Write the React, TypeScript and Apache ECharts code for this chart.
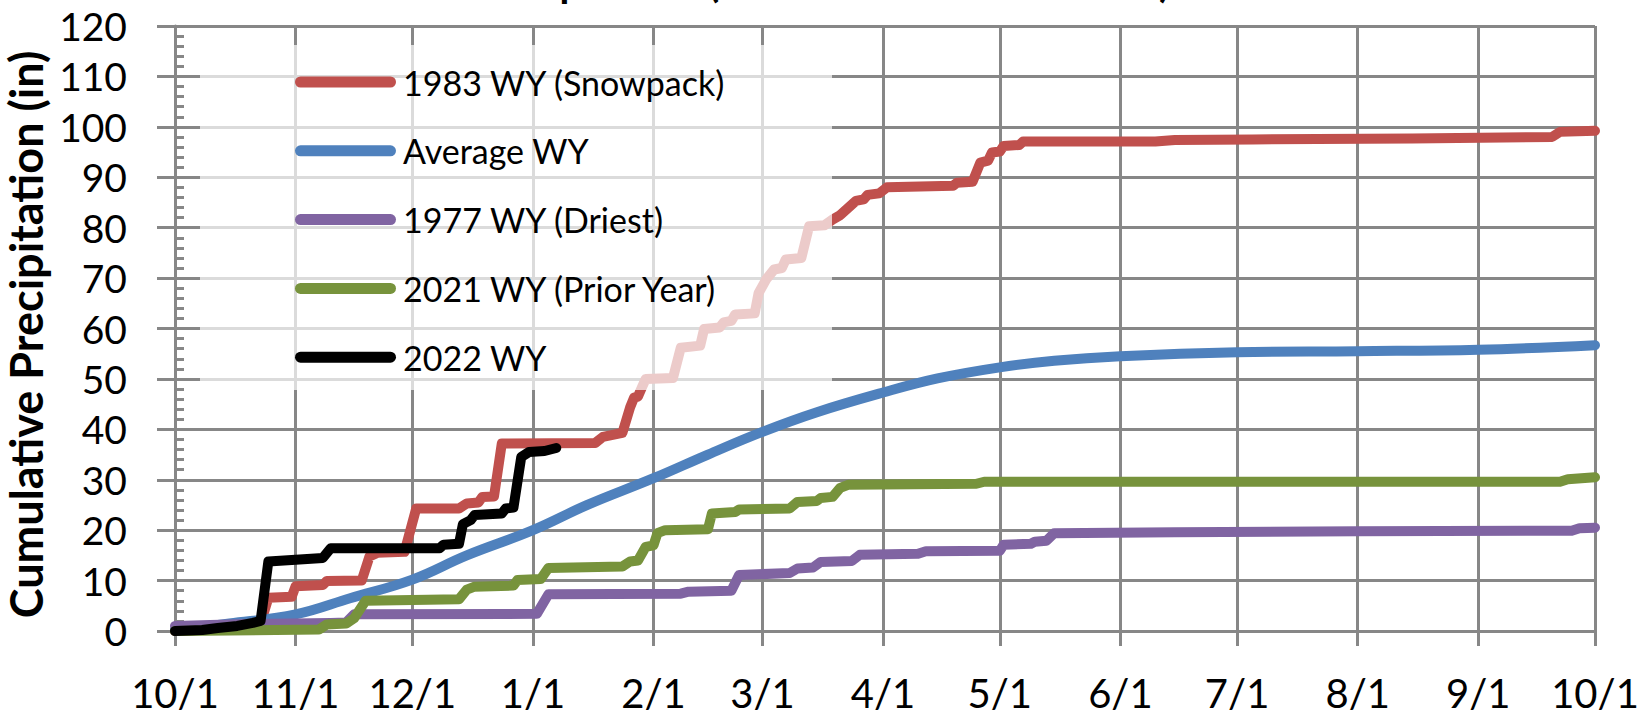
import React, { useEffect, useRef } from 'react';
import * as echarts from 'echarts';

// ---- categories: each day of the water year, 10/1 to the next 10/1 ----
const START = Date.UTC(2021, 9, 1);
const DAY_COUNT = 366;
const dayCategories: string[] = Array.from({ length: DAY_COUNT }, (_, i) =>
  new Date(START + i * 86400000).toISOString().slice(0, 10)
);

const titleText = 'Precipitation (Water Year 2022 to Date)';
const yAxisTitle = 'Cumulative Precipitation (in)';
const yTickValues = { min: 0, max: 120, step: 10 };

const seriesNames = ['1983 WY (Snowpack)', 'Average WY', '1977 WY (Driest)', '2021 WY (Prior Year)', '2022 WY'];
const seriesColors = ['#C0504D', '#4F81BD', '#8064A2', '#77933C', '#000000'];

// ---- values ([date, cumulative inches]) ----
const wy1983: [string, number][] = [
  ['2021-10-01', 0], ['2021-10-15', 0.5], ['2021-10-23', 1.5], ['2021-10-25', 6.6], ['2021-10-31', 6.8],
  ['2021-11-01', 8.9], ['2021-11-08', 9.1], ['2021-11-09', 9.9], ['2021-11-18', 10.0], ['2021-11-20', 14.8],
  ['2021-11-22', 15.5], ['2021-11-29', 15.7], ['2021-12-02', 24.3], ['2021-12-13', 24.3], ['2021-12-15', 25.3],
  ['2021-12-18', 25.5], ['2021-12-19', 26.6], ['2021-12-22', 26.7], ['2021-12-24', 37.2], ['2022-01-17', 37.3],
  ['2022-01-19', 38.5], ['2022-01-24', 39.3], ['2022-01-26', 44.4], ['2022-01-27', 46.3], ['2022-01-28', 46.5],
  ['2022-01-29', 48.3], ['2022-01-30', 50.0], ['2022-02-06', 50.2], ['2022-02-08', 56.2], ['2022-02-13', 56.6],
  ['2022-02-14', 59.9], ['2022-02-18', 60.2], ['2022-02-19', 61.2], ['2022-02-21', 61.5], ['2022-02-22', 62.8],
  ['2022-02-27', 63.0], ['2022-02-28', 67.0], ['2022-03-02', 69.8], ['2022-03-04', 71.7], ['2022-03-06', 72.0],
  ['2022-03-07', 73.7], ['2022-03-11', 74.0], ['2022-03-13', 80.3], ['2022-03-17', 80.5], ['2022-03-19', 81.6],
  ['2022-03-21', 82.5], ['2022-03-25', 85.3], ['2022-03-27', 85.6], ['2022-03-28', 86.5], ['2022-03-31', 86.8],
  ['2022-04-02', 88.0], ['2022-04-19', 88.3], ['2022-04-20', 88.9], ['2022-04-24', 89.1], ['2022-04-26', 92.9],
  ['2022-04-28', 93.3], ['2022-04-29', 94.9], ['2022-05-01', 95.1], ['2022-05-02', 96.2], ['2022-05-06', 96.4],
  ['2022-05-07', 97.1], ['2022-06-10', 97.1], ['2022-06-15', 97.4], ['2022-07-05', 97.5], ['2022-08-15', 97.7],
  ['2022-09-20', 98.0], ['2022-09-22', 99.0], ['2022-10-01', 99.2],
];

const wyAverage: [string, number][] = [
  ['2021-10-01', 0.3], ['2021-10-15', 1.5], ['2021-11-01', 3.3], ['2021-11-15', 6.5], ['2021-12-01', 10.2],
  ['2021-12-15', 15.0], ['2022-01-01', 20.0], ['2022-01-15', 25.0], ['2022-02-01', 30.3], ['2022-02-15', 35.0],
  ['2022-03-01', 39.5], ['2022-03-15', 43.4], ['2022-04-01', 47.3], ['2022-04-15', 50.1], ['2022-05-01', 52.3],
  ['2022-05-15', 53.6], ['2022-06-01', 54.5], ['2022-07-01', 55.3], ['2022-08-01', 55.5], ['2022-09-01', 55.8],
  ['2022-10-01', 56.7],
];

const wy1977: [string, number][] = [
  ['2021-10-01', 1.0], ['2021-10-10', 1.2], ['2021-10-20', 1.4], ['2021-11-10', 1.6], ['2021-11-14', 1.7],
  ['2021-11-16', 3.3], ['2022-01-02', 3.4], ['2022-01-05', 7.3], ['2022-02-08', 7.4], ['2022-02-10', 7.8],
  ['2022-02-21', 8.0], ['2022-02-23', 11.1], ['2022-03-08', 11.5], ['2022-03-10', 12.4], ['2022-03-14', 12.6],
  ['2022-03-16', 13.7], ['2022-03-24', 13.9], ['2022-03-26', 15.1], ['2022-04-10', 15.3], ['2022-04-12', 15.8],
  ['2022-05-01', 15.9], ['2022-05-02', 17.1], ['2022-05-09', 17.3], ['2022-05-10', 17.7], ['2022-05-13', 17.9],
  ['2022-05-15', 19.4], ['2022-06-15', 19.6], ['2022-08-01', 19.8], ['2022-09-25', 19.9], ['2022-09-27', 20.4],
  ['2022-10-01', 20.5],
];

const wy2021: [string, number][] = [
  ['2021-10-01', 0], ['2021-10-15', 0.1], ['2021-11-07', 0.3], ['2021-11-09', 1.3], ['2021-11-14', 1.5],
  ['2021-11-16', 2.5], ['2021-11-19', 6.0], ['2021-12-13', 6.3], ['2021-12-15', 8.2], ['2021-12-17', 8.8],
  ['2021-12-27', 9.0], ['2021-12-28', 10.1], ['2022-01-03', 10.3], ['2022-01-05', 12.5], ['2022-01-24', 12.8],
  ['2022-01-26', 13.8], ['2022-01-28', 14.0], ['2022-01-30', 16.7], ['2022-02-01', 17.0], ['2022-02-02', 19.4],
  ['2022-02-04', 20.0], ['2022-02-15', 20.2], ['2022-02-16', 23.3], ['2022-02-22', 23.6], ['2022-02-23', 24.1],
  ['2022-03-08', 24.3], ['2022-03-10', 25.6], ['2022-03-15', 25.8], ['2022-03-16', 26.4], ['2022-03-19', 26.6],
  ['2022-03-21', 28.4], ['2022-03-23', 29.0], ['2022-04-25', 29.2], ['2022-04-27', 29.6], ['2022-09-22', 29.6],
  ['2022-09-24', 30.1], ['2022-10-01', 30.5],
];

const wy2022: [string, number][] = [
  ['2021-10-01', 0], ['2021-10-08', 0.2], ['2021-10-12', 0.6], ['2021-10-17', 1.0], ['2021-10-21', 1.6],
  ['2021-10-23', 2.0], ['2021-10-25', 13.8], ['2021-11-02', 14.2], ['2021-11-08', 14.5], ['2021-11-10', 16.4],
  ['2021-12-08', 16.4], ['2021-12-09', 17.1], ['2021-12-13', 17.3], ['2021-12-14', 21.2], ['2021-12-16', 22.0],
  ['2021-12-17', 23.0], ['2021-12-24', 23.3], ['2021-12-25', 24.3], ['2021-12-27', 24.5], ['2021-12-29', 34.5],
  ['2021-12-31', 35.5], ['2022-01-04', 35.7], ['2022-01-07', 36.3],
];

const seriesValues = [wy1983, wyAverage, wy1977, wy2021, wy2022];

const GRID = '#878787';
const FONT = 'Lato';

const isMonthStart = (_i: number, value: string) => value.endsWith('-01');

export default function App() {
  const ref = useRef<HTMLDivElement>(null);

  useEffect(() => {
    if (!ref.current) return;
    const chart = echarts.init(ref.current, undefined, { renderer: 'svg' });
    const idx = new Map(dayCategories.map((d, i) => [d, i]));

    const series = seriesValues.map((vals, k) => ({
      name: seriesNames[k],
      type: 'line',
      z: 2,
      data: vals.map(([d, v]) => [idx.get(d), v]),
      showSymbol: false,
      symbol: 'none',
      smooth: k === 1 ? 0.4 : false,
      color: seriesColors[k],
      lineStyle: { width: 10, color: seriesColors[k], cap: 'round', join: 'round' },
      emphasis: { disabled: true },
    }));

    chart.setOption({
      animation: false,
      backgroundColor: '#ffffff',
      textStyle: { fontFamily: FONT },
      title: {
        text: titleText,
        left: 'center',
        top: -43,
        textStyle: { fontFamily: FONT, fontSize: 40, fontWeight: 'bold', color: '#000' },
      },
      grid: {
        left: 175,
        right: 45,
        top: 26,
        bottom: 86,
        containLabel: false,
        outerBoundsMode: 'none',
      },
      legend: {
        orient: 'vertical',
        left: 295,
        top: 62,
        padding: 0,
        itemGap: 28.8,
        itemWidth: 101,
        itemHeight: 11,
        selectedMode: false,
        icon: 'path://M5.5,0H95.5A5.5,5.5,0,0,1,95.5,11H5.5A5.5,5.5,0,0,1,5.5,0Z',
        textStyle: { fontFamily: FONT, fontSize: 34, lineHeight: 40, color: '#000', padding: [0, 0, 0, 2] },
        data: seriesNames,
        z: 4,
      },
      graphic: [
        {
          z: 3,
          elements: [
            {
              type: 'rect',
              z: 3,
              silent: true,
              shape: { x: 200, y: 45, width: 632, height: 345 },
              style: { fill: 'rgba(255,255,255,0.7)' },
            },
          ],
        },
      ],
      xAxis: {
        type: 'category',
        data: dayCategories,
        boundaryGap: false,
        axisLine: { lineStyle: { color: GRID, width: 3 } },
        axisTick: { show: true, interval: isMonthStart, length: 15, lineStyle: { color: GRID, width: 3 } },
        splitLine: { show: true, interval: isMonthStart, lineStyle: { color: GRID, width: 3 } },
        axisLabel: {
          interval: isMonthStart,
          margin: 42,
          fontFamily: FONT,
          fontSize: 40,
          color: '#000',
          formatter: (value: string) => {
            const [, m, d] = value.split('-');
            return `${+m}/${+d}`;
          },
        },
      },
      yAxis: [
        {
          type: 'value',
          min: yTickValues.min,
          max: yTickValues.max,
          interval: yTickValues.step,
          name: yAxisTitle,
          nameLocation: 'middle',
          nameGap: 110,
          nameTextStyle: {
            fontFamily: FONT,
            fontSize: 45,
            fontWeight: 'bold',
            color: '#000',
            padding: [0, 12, 0, 0],
          },
          axisLine: { show: true, lineStyle: { color: GRID, width: 3 } },
          axisTick: { show: true, length: 18, lineStyle: { color: GRID, width: 3 } },
          splitLine: { show: true, lineStyle: { color: GRID, width: 3 } },
          axisLabel: { margin: 48, fontFamily: FONT, fontSize: 39, color: '#000' },
        },
        {
          type: 'value',
          min: yTickValues.min,
          max: yTickValues.max,
          interval: yTickValues.step,
          position: 'left',
          axisLine: { show: false },
          axisLabel: { show: false },
          splitLine: { show: false },
          axisTick: { show: true, inside: true, length: 9, lineStyle: { color: GRID, width: 3 } },
          minorTick: { show: true, splitNumber: 5, length: 9, lineStyle: { color: GRID, width: 3 } },
        },
      ],
      series,
    });

    return () => chart.dispose();
  }, []);

  return <div ref={ref} style={{ position: 'absolute', left: 0, top: 0, width: 1640, height: 717 }} />;
}
